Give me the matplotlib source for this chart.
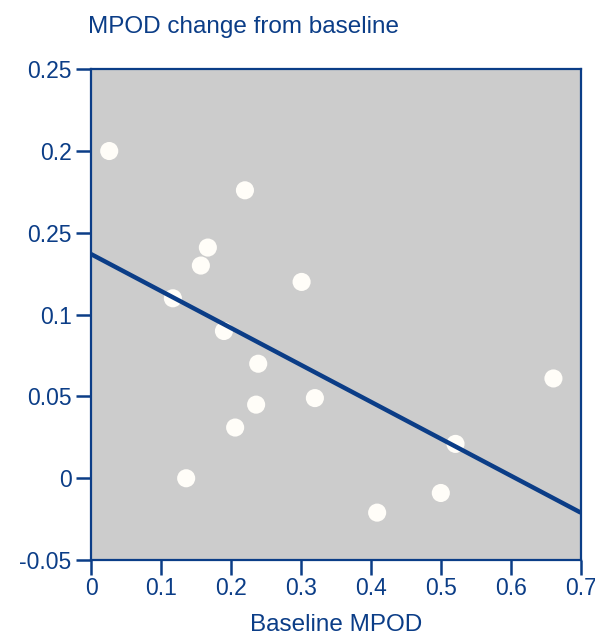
import matplotlib
matplotlib.use('Agg')
from matplotlib import pyplot as plt
import numpy as np

# Данные
baseline = [0.026, 0.220, 0.167, 0.157, 0.117, 0.301, 0.190, 0.239, 0.236,
            0.320, 0.206, 0.136, 0.409, 0.500, 0.521, 0.661]
change = [0.200, 0.176, 0.141, 0.130, 0.110, 0.120, 0.090, 0.070, 0.045,
          0.049, 0.031, 0.000, -0.021, -0.009, 0.021, 0.061]
fit_x = [0.0, 0.7]
fit_y = [0.137, -0.021]

x_ticks = [0, 0.1, 0.2, 0.3, 0.4, 0.5, 0.6, 0.7]
x_labels = ['0', '0.1', '0.2', '0.3', '0.4', '0.5', '0.6', '0.7']
y_ticks = [-0.05, 0, 0.05, 0.1, 0.15, 0.2, 0.25]
y_labels = ['-0.05', '0', '0.05', '0.1', '0.25', '0.2', '0.25']

blue = '#0b3d87'

plt.rcParams['font.family'] = ['Liberation Sans', 'DejaVu Sans']

fig = plt.figure(figsize=(5.95, 6.35), dpi=100)
ax = fig.add_axes([0.153, 0.118, 0.823, 0.773])
ax.set_facecolor('#cccccc')

ax.scatter(baseline, change, s=170, c='#fffdf8', edgecolors='none', zorder=2)
ax.plot(fit_x, fit_y, c=blue, linewidth=3.2, zorder=3, solid_capstyle='butt')

ax.set_xlim(0, 0.7)
ax.set_ylim(-0.05, 0.25)
ax.set_xticks(x_ticks)
ax.set_xticklabels(x_labels)
ax.set_yticks(y_ticks)
ax.set_yticklabels(y_labels)

for sp in ax.spines.values():
    sp.set_color(blue)
    sp.set_linewidth(1.6)
ax.tick_params(axis='both', colors=blue, labelcolor=blue, labelsize=16.5,
               length=11, width=1.8, direction='out')
ax.tick_params(axis='x', pad=1)
ax.tick_params(axis='y', pad=3)

fig.text(0.148, 0.957, 'MPOD change from baseline', color=blue, fontsize=17.5,
         ha='left', va='center')
ax.set_xlabel('Baseline MPOD', color=blue, fontsize=17.5, labelpad=10)

fig.savefig('out.png', dpi=100, facecolor='white')
